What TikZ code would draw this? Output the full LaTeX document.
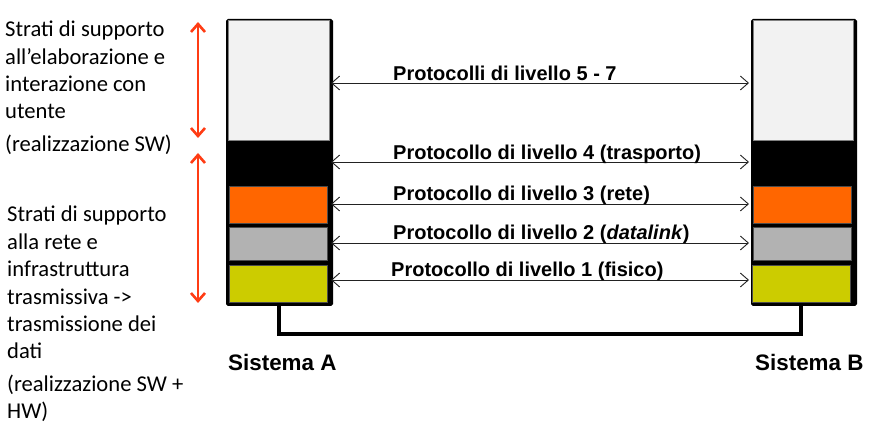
\documentclass[tikz,border=0pt]{standalone}
\usepackage{fontspec}
\setmainfont{Carlito}
\newfontfamily\arialfont{Liberation Sans}
\usetikzlibrary{arrows.meta}
\definecolor{lgrey}{HTML}{F2F2F2}
\definecolor{layorange}{HTML}{FF6600}
\definecolor{laygrey}{HTML}{B2B2B2}
\definecolor{layyellow}{HTML}{CCCC00}
\definecolor{redarrow}{RGB}{255,60,20}
\definecolor{darkline}{HTML}{222222}
\tikzset{
  outerbox/.style={draw=black, line width=3pt, fill=black, rounded corners=1pt, anchor=north west, inner sep=0pt, minimum width=#1, minimum height=284pt},
  topbox/.style={draw=gray, line width=0.6pt, fill=lgrey, anchor=north west, inner sep=0pt},
  layer/.style={draw=black!70, line width=0.8pt, fill=#1, anchor=north west, inner sep=0pt},
  proto/.style={darkline, line width=0.9pt, {Straight Barb[length=8pt,width=14pt]}-{Straight Barb[length=8pt,width=14pt]}},
  protolabel/.style={anchor=base west, inner sep=0pt, font=\arialfont\bfseries\fontsize{20}{22}\selectfont},
  redarr/.style={redarrow, line width=2.6pt, {Straight Barb[length=8pt,width=14pt]}-{Straight Barb[length=8pt,width=14pt]}},
  sidetext/.style={anchor=base west, inner sep=0pt, align=left, font=\fontsize{22.6}{27.4}\selectfont},
  syslabel/.style={anchor=base west, inner sep=0pt, font=\arialfont\bfseries\fontsize{22.4}{24}\selectfont},
}
\begin{document}
\begin{tikzpicture}[x=1pt,y=-1pt]
\useasboundingbox (0,0) rectangle (879,427);
% System A
\node[outerbox=104pt] (A) at (226,19) {};
\node[topbox, minimum width=101pt, minimum height=120pt] (A7) at (227.5,20.5) {};
\node[layer=layorange, minimum width=98pt, minimum height=37pt] (A3) at (229,186) {};
\node[layer=laygrey, minimum width=98pt, minimum height=33pt] (A2) at (229,227) {};
\node[layer=layyellow, minimum width=98pt, minimum height=37pt] (A1) at (229,265) {};
% System B
\node[outerbox=103pt] (B) at (751,19) {};
\node[topbox, minimum width=100pt, minimum height=120pt] (B7) at (752.5,20.5) {};
\node[layer=layorange, minimum width=98pt, minimum height=37pt] (B3) at (753,186) {};
\node[layer=laygrey, minimum width=98pt, minimum height=33pt] (B2) at (753,227) {};
\node[layer=layyellow, minimum width=98pt, minimum height=37pt] (B1) at (752,265) {};
% connection
\coordinate (cA) at (279,334);
\coordinate (cB) at (801,334);
\draw[line width=3.5pt] (A.south -| cA) -- (cA) -- (cB) -- (B.south -| cB);
% protocol arrows
\foreach \y/\n in {83/p7,162/p4,204/p3,243/p2,280/p1}{
  \coordinate (\n a) at (331,\y);
  \coordinate (\n b) at (749,\y);
  \draw[proto] (\n a) -- (\n b);
}
\node[protolabel] (l7) at (393,81) {Protocolli di livello 5 - 7};
\node[protolabel] (l4) at (393,160) {Protocollo di livello 4 (trasporto)};
\node[protolabel] (l3) at (393,201) {Protocollo di livello 3 (rete)};
\node[protolabel] (l2) at (393,240) {Protocollo di livello 2 (\textit{datalink})};
\node[protolabel] (l1) at (391,277) {Protocollo di livello 1 (fisico)};
% system labels
\node[syslabel] (sA) at (228,371) {Sistema A};
\node[syslabel] (sB) at (755,371) {Sistema B};
% red arrows
\coordinate (r1t) at (198,22);
\coordinate (r1b) at (198,138);
\coordinate (r2t) at (198,153);
\coordinate (r2b) at (198,303);
\draw[redarr] (r1t) -- (r1b);
\draw[redarr] (r2t) -- (r2b);
% side texts (anchored at the baseline of their last line)
\node[sidetext] (t1) at (5,119) {Strati di supporto\\all’elaborazione e\\interazione con\\utente};
\node[sidetext] (t2) at (5,152) {(realizzazione SW)};
\node[sidetext] (t3) at (7,359) {Strati di supporto\\alla rete e\\infrastruttura\\trasmissiva ->\\trasmissione dei\\dati};
\node[sidetext] (t4) at (7,419) {(realizzazione SW +\\HW)};
\end{tikzpicture}
\end{document}
